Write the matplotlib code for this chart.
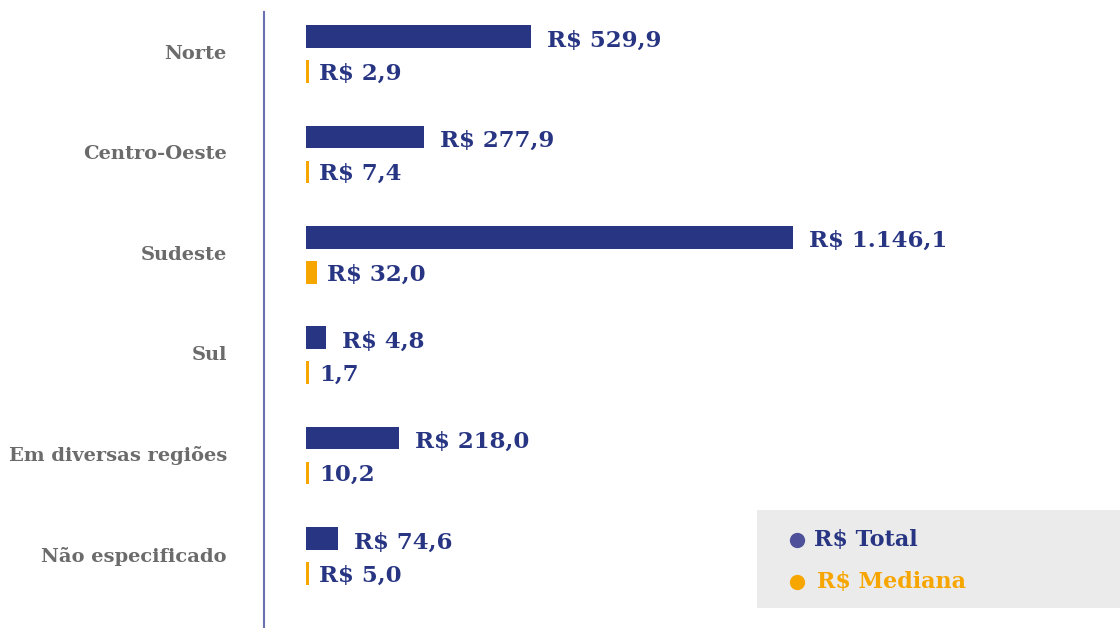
import matplotlib
matplotlib.use("Agg")
import matplotlib.pyplot as plt
import numpy as np
from matplotlib.patches import Rectangle
from matplotlib.transforms import offset_copy

categories = ["Norte", "Centro-Oeste", "Sudeste", "Sul", "Em diversas regiões", "Não especificado"]
total = [529.9, 277.9, 1146.1, 4.8, 218.0, 74.6]
mediana = [2.9, 7.4, 32.0, 1.7, 10.2, 5.0]
total_labels = ["R$ 529,9", "R$ 277,9", "R$ 1.146,1", "R$ 4,8", "R$ 218,0", "R$ 74,6"]
mediana_labels = ["R$ 2,9", "R$ 7,4", "R$ 32,0", "1,7", "10,2", "R$ 5,0"]

NAVY = "#283583"
ORANGE = "#F7A600"
GREY = "#6B6B6B"
SPINE = "#6B70B0"
FONT = ["DejaVu Serif"]

W, H = 1120, 628
fig = plt.figure(figsize=(W / 100, H / 100), dpi=100)
ax = fig.add_axes([264 / W, 0, 1 - 264 / W, (628 - 12) / H])

y = np.arange(len(categories))
off = 0.175
bh = 0.225

# total bars (min visible width)
tot = np.array(total)
tot_draw = np.maximum(tot, 47)
ax.barh(y - off, tot_draw, height=bh, color=NAVY, left=0)
ax.set_xlim(-98.8, 1915.6)
ax.set_ylim(5.717, -0.418)

# median bars on their own scale
ax2 = ax.twiny()
med = np.array(mediana)
ax2.set_xlim(-122, 2366)
med_draw = np.maximum(med, 8.5)
ax2.barh(y + off, med_draw, height=bh, color=ORANGE)
ax2.set_ylim(5.717, -0.418)

for a in (ax, ax2):
    for s in ["top", "right", "bottom"]:
        a.spines[s].set_visible(False)
    a.set_xticks([])
    a.set_yticks([])
ax.spines["left"].set_color(SPINE)
ax.spines["left"].set_linewidth(1.5)
ax2.spines["left"].set_visible(False)

for i in range(len(categories)):
    t = offset_copy(ax.transData, fig=fig, x=16, y=0, units="dots")
    ax.text(tot_draw[i], y[i] - off + 0.04, total_labels[i], transform=t, va="center", ha="left",
            fontsize=16.5, fontweight="bold", color=NAVY, family=FONT)
    t2 = offset_copy(ax2.transData, fig=fig, x=10, y=0, units="dots")
    ax2.text(med_draw[i], y[i] + off + 0.02, mediana_labels[i], transform=t2, va="center", ha="left",
             fontsize=16.5, fontweight="bold", color=NAVY, family=FONT)
    ax.text(-0.0435, y[i] + 0.0, categories[i], transform=ax.get_yaxis_transform(), va="center", ha="right",
            fontsize=14, fontweight="bold", color=GREY, family=FONT)

# legend box
fig.patches.append(Rectangle((757 / W, 1 - 608 / H), (1120 - 757) / W, (608 - 510) / H,
                             transform=fig.transFigure, facecolor="#EBEBEB", edgecolor="none", zorder=0))
fig.add_artist(plt.Line2D([797 / W], [1 - 540 / H], marker="o", markersize=10, color="#4E519A",
                          transform=fig.transFigure, linestyle="none"))
fig.add_artist(plt.Line2D([797 / W], [1 - 582 / H], marker="o", markersize=10, color=ORANGE,
                          transform=fig.transFigure, linestyle="none"))
fig.text(814 / W, 1 - 540 / H, "R$ Total", va="center", ha="left", fontsize=16, fontweight="bold",
         color=NAVY, family=FONT)
fig.text(817 / W, 1 - 582 / H, "R$ Mediana", va="center", ha="left", fontsize=16, fontweight="bold",
         color=ORANGE, family=FONT)

fig.savefig("out.png", dpi=100)
